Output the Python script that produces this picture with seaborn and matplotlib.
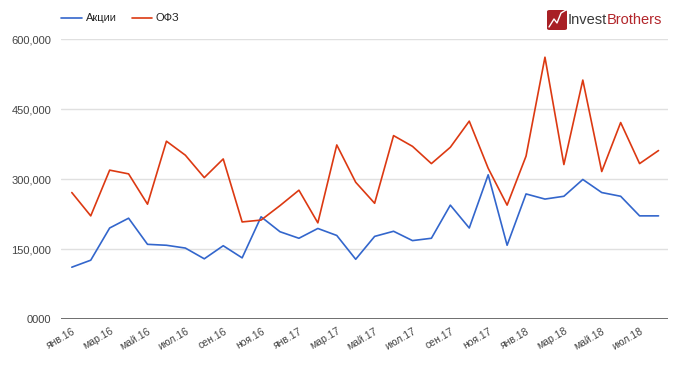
import matplotlib

matplotlib.use("Agg")
import matplotlib.pyplot as plt
import pandas as pd
import seaborn as sns
from matplotlib.patches import FancyBboxPatch

months = [
    "янв.16", "фев.16", "мар.16", "апр.16", "май.16", "июн.16", "июл.16", "авг.16",
    "сен.16", "окт.16", "ноя.16", "дек.16", "янв.17", "фев.17", "мар.17", "апр.17",
    "май.17", "июн.17", "июл.17", "авг.17", "сен.17", "окт.17", "ноя.17", "дек.17",
    "янв.18", "фев.18", "мар.18", "апр.18", "май.18", "июн.18", "июл.18", "авг.18",
]
stocks = [
    111, 126, 195, 216, 160, 158, 152, 129, 157, 131, 219, 187, 173, 194, 179, 128,
    177, 188, 168, 173, 244, 195, 309, 158, 268, 257, 263, 299, 271, 263, 221, 221,
]
ofz = [
    271, 221, 319, 311, 246, 381, 351, 303, 343, 208, 212, 243, 276, 206, 373, 293,
    248, 393, 370, 333, 368, 424, 323, 244, 349, 561, 331, 512, 316, 421, 333, 361,
]
y_ticks = [0, 150000, 300000, 450000, 600000]
y_labels = ["0000", "150,000", "300,000", "450,000", "600,000"]

df = pd.DataFrame({
    "idx": list(range(len(months))) * 2,
    "value": [v * 1000 for v in stocks] + [v * 1000 for v in ofz],
    "series": ["Акции"] * len(months) + ["ОФЗ"] * len(months),
})

sns.set_style("white")
plt.rcParams["font.family"] = ["Liberation Sans", "DejaVu Sans"]

fig = plt.figure(figsize=(6.75, 3.67), dpi=100)
ax = fig.add_axes([0.0904, 0.1308, 0.9896 - 0.0904, 0.8937 - 0.1308])

sns.lineplot(
    data=df, x="idx", y="value", hue="series",
    palette={"Акции": "#3366cc", "ОФЗ": "#dc3912"},
    linewidth=1.2, ax=ax, legend=False,
)

ax.set_xlim(-0.57, 31.5)
ax.set_ylim(0, 600000)
ax.set_yticks(y_ticks)
ax.set_yticklabels(y_labels, fontsize=8, color="#444444")
ax.set_xticks(range(0, len(months), 2))
ax.set_xticklabels(months[::2], rotation=30, ha="right", rotation_mode="anchor",
                   fontsize=7.5, color="#444444")
ax.tick_params(axis="both", length=0)
ax.tick_params(axis="y", pad=7)
ax.tick_params(axis="x", pad=5)
ax.set_xlabel("")
ax.set_ylabel("")
for y in y_ticks[1:]:
    ax.axhline(y, color="#e0e0e0", linewidth=1, zorder=0)
ax.axhline(0, color="#555555", linewidth=1.2, zorder=1)
for s in ax.spines.values():
    s.set_visible(False)

# legend
W, H = 675, 367
def fx(px):
    return px / W
def fy(py):
    return 1 - py / H

fig.lines.append(plt.Line2D([fx(61), fx(82)], [fy(18), fy(18)], color="#3366cc", lw=1.2,
                            transform=fig.transFigure))
fig.text(fx(86), fy(18), "Акции", fontsize=8, color="#222222", va="center")
fig.lines.append(plt.Line2D([fx(132), fx(152)], [fy(18), fy(18)], color="#dc3912", lw=1.2,
                            transform=fig.transFigure))
fig.text(fx(155), fy(18), "ОФЗ", fontsize=8, color="#222222", va="center")

# logo
icon = FancyBboxPatch((fx(547), fy(30)), fx(20), 20 / H, boxstyle="round,pad=0,rounding_size=0.004",
                      transform=fig.transFigure, facecolor="#a82025", edgecolor="none")
fig.patches.append(icon)
fig.lines.append(plt.Line2D([fx(549), fx(554), fx(557), fx(561), fx(566)],
                            [fy(27), fy(19), fy(23), fy(13), fy(10)],
                            color="white", lw=1.0, transform=fig.transFigure))
t1 = fig.text(fx(568), fy(20), "Invest", fontsize=10.5, color="#3a3a3a", va="center")
fig.canvas.draw()
bb = t1.get_window_extent()
fig.text(bb.x1 / W, fy(20), "Brothers", fontsize=10.5, color="#b3262b", va="center")

fig.savefig("out.png", dpi=100)
